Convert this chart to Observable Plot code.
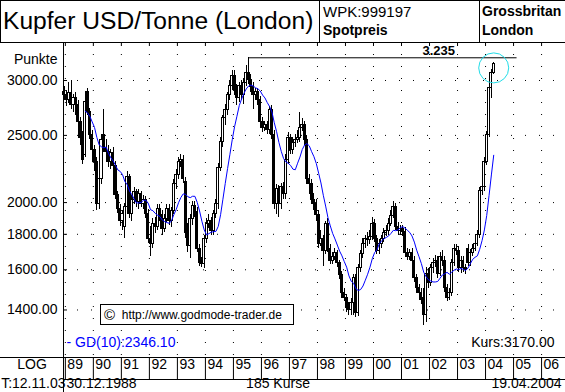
<!DOCTYPE html>
<html><head><meta charset="utf-8">
<script src="https://cdn.jsdelivr.net/npm/d3@7"></script>
<script src="https://cdn.jsdelivr.net/npm/@observablehq/plot@0.6"></script>
<style>
html,body{margin:0;padding:0;background:#fff;}
#wrap{position:relative;width:565px;height:392px;overflow:hidden;background:#fff;font-family:"Liberation Sans",Arial,sans-serif;color:#000;}
.ln{position:absolute;background:#000;}
.t{position:absolute;white-space:nowrap;line-height:1;}
#chart{position:absolute;left:0;top:41px;}
#copy{position:absolute;left:100px;top:304px;width:189px;height:19px;border:1px solid #000;background:#fff;font-size:12px;line-height:19px;padding-left:3px;white-space:nowrap;}
</style></head><body>
<div id="wrap">
  <div class="ln" style="left:0;top:0;width:565px;height:1px"></div>
  <div class="ln" style="left:0;top:0;width:1px;height:42px"></div>
  <div class="ln" style="left:319px;top:0;width:1px;height:42px"></div>
  <div class="ln" style="left:479px;top:0;width:1px;height:42px"></div>
  <div class="ln" style="left:0;top:42px;width:64px;height:1px"></div>
  <div class="ln" style="left:0;top:357px;width:64px;height:1px"></div>
  <div class="ln" style="left:63px;top:357px;width:1px;height:35px"></div>
  <div class="ln" style="left:63px;top:379px;width:502px;height:1px"></div>
  <div class="t" id="title" style="left:3px;top:9px;font-size:24.6px;">Kupfer USD/Tonne (London)</div>
  <div class="t" id="wpk" style="left:323px;top:4px;font-size:15px;"></div>
  <div class="t" id="typ" style="left:323px;top:23px;font-size:14px;font-weight:bold;"></div>
  <div class="t" id="land" style="left:482px;top:4px;font-size:14px;font-weight:bold;"></div>
  <div class="t" id="ort" style="left:482px;top:23px;font-size:14px;font-weight:bold;"></div>
  <div id="chart"></div>
  <div id="copy"><span style="font-size:15px;vertical-align:-1px">&copy;</span>&nbsp; http://www.godmode-trader.de</div>
</div>
<script>
// ---- Data: monthly candles, index 0 = Dec 1988 ----
const firstDate = "30.12.1988";
const lastDate = "19.04.2004";
const infoTexts = ["WPK:999197", "Spotpreis", "Grossbritan", "London"];
const gdText = "GD(10):2346.10";

const opens = [
2885,2855,2810,2875,2765,2830,2770,2615,2480,2345,
2885,2700,2505,2385,2290,1990,2160,2505,2400,2365,
2285,2360,2260,2050,1955,1880,1845,1970,2175,1925,
2020,2070,2005,2055,1990,2020,1925,1775,1745,1865,
1845,1955,1920,1835,1895,1955,1880,1945,2125,2195,
2290,2305,2140,1820,1730,1895,1975,1940,1715,1635,
1630,1775,1865,1880,1820,1925,1990,2245,2445,2650,
2720,2855,2950,3050,2905,2830,2950,2855,2980,3080,
3000,2940,2855,2885,2810,2615,2560,2585,2545,2720,
2505,1990,2090,1990,2105,2055,2305,2480,2385,2440,
2465,2480,2560,2585,2465,2160,2125,2020,1990,1920,
1745,1775,1705,1865,1715,1650,1670,1690,1635,1570,
1480,1455,1410,1400,1435,1555,1385,1610,1685,1745,
1775,1765,1785,1865,1775,1705,1745,1775,1805,1820,
1865,1915,1970,1845,1820,1835,1815,1690,1670,1690,
1650,1555,1505,1480,1455,1375,1580,1530,1610,1635,
1650,1580,1670,1650,1505,1455,1480,1635,1715,1705,
1610,1650,1610,1715,1635,1690,1716,1745,1797,2076,
2104,2290,2503,2922,3080];
const highs = [
2940,2905,2980,3000,2865,2885,2810,2650,2530,2810,
2920,2735,2545,2415,2320,2195,2505,2720,2465,2415,
2385,2400,2290,2075,1990,1945,1995,2215,2195,2050,
2105,2090,2090,2075,2050,2040,1955,1845,1895,1905,
1990,1985,1945,1920,1985,1990,1970,2160,2230,2320,
2345,2335,2175,1865,1920,2005,2005,1970,1740,1665,
1795,1895,1920,1905,1945,2020,2275,2480,2675,2770,
2885,3000,3100,3100,2960,2980,3000,3020,3150,3235,
3060,2980,2920,2920,2845,2650,2620,2620,2755,2765,
2545,2125,2115,2130,2140,2345,2520,2510,2480,2510,
2545,2700,2640,2620,2495,2195,2160,2060,2020,1945,
1820,1795,1880,1895,1740,1695,1715,1705,1650,1590,
1505,1475,1435,1455,1575,1575,1630,1705,1775,1795,
1810,1820,1905,1890,1795,1770,1795,1835,1855,1895,
1945,2010,1995,1870,1855,1855,1840,1715,1710,1715,
1670,1575,1525,1505,1505,1610,1605,1630,1660,1680,
1670,1695,1705,1670,1525,1505,1655,1740,1740,1730,
1670,1670,1630,1740,1710,1740,1770,1820,2105,2131,
2320,2535,2960,3112,3185];
const lows = [
2810,2755,2780,2720,2700,2675,2480,2420,2270,2320,
2675,2465,2345,2215,1945,1955,2125,2365,2305,2245,
2230,2215,2020,1930,1845,1820,1775,1945,1895,1880,
1985,1970,1955,1970,1955,1895,1745,1670,1715,1805,
1820,1880,1795,1810,1870,1855,1840,1920,2090,2160,
2245,2130,1775,1695,1660,1855,1905,1695,1620,1610,
1605,1745,1835,1795,1795,1895,1955,2215,2405,2585,
2675,2810,2905,2855,2765,2790,2810,2770,2940,2960,
2885,2720,2810,2765,2560,2520,2530,2505,2510,2465,
1955,1925,1905,1955,2020,2020,2270,2345,2350,2405,
2430,2445,2530,2420,2125,2055,1990,1945,1880,1715,
1730,1620,1685,1695,1630,1630,1650,1610,1550,1455,
1440,1390,1375,1375,1375,1365,1370,1585,1660,1715,
1730,1740,1765,1750,1685,1685,1715,1750,1785,1795,
1845,1895,1820,1795,1795,1785,1670,1650,1650,1630,
1535,1480,1455,1425,1330,1345,1505,1515,1580,1610,
1555,1565,1620,1485,1440,1445,1465,1620,1680,1585,
1580,1585,1575,1615,1620,1672,1700,1728,1775,2050,
2076,2260,2480,2830,3060];
const closes = [
2855,2810,2875,2765,2830,2770,2615,2480,2305,2790,
2700,2505,2385,2290,1990,2160,2465,2400,2365,2285,
2360,2260,2050,1955,1880,1925,1970,2175,1925,2020,
2070,2005,2055,1990,2020,1925,1775,1745,1865,1845,
1955,1920,1835,1895,1955,1880,1945,2125,2195,2290,
2305,2160,1805,1730,1895,1975,1940,1715,1635,1630,
1775,1865,1880,1820,1925,1990,2245,2445,2650,2720,
2855,2950,3050,2905,2830,2950,2855,2980,3080,3000,
2940,2855,2885,2810,2615,2560,2585,2545,2720,2505,
1990,2090,1990,2105,2055,2305,2480,2385,2440,2465,
2480,2560,2585,2465,2160,2125,2020,1990,1920,1745,
1775,1705,1865,1715,1650,1670,1690,1635,1570,1480,
1455,1410,1400,1435,1555,1385,1610,1685,1745,1775,
1765,1785,1865,1775,1705,1745,1775,1805,1820,1865,
1915,1970,1845,1820,1835,1815,1690,1670,1690,1650,
1555,1505,1480,1445,1375,1580,1530,1610,1635,1650,
1580,1670,1650,1505,1455,1480,1635,1715,1705,1610,
1650,1610,1600,1635,1690,1716,1745,1797,2076,2104,
2290,2503,2922,3080,3170];

const years = d3.range(1989, 2007);            // x-axis year labels 89 … 06
const yTicks = [1400, 1600, 1800, 2000, 2500, 3000];

// ---- derived ----
const candles = closes.map((c, i) => ({i, open: opens[i], high: highs[i], low: lows[i], close: c}));
const up = candles.filter(d => d.close > d.open);
const down = candles.filter(d => d.close <= d.open);
const yearTicks = years.map(y => (y - 1989) * 12 + 0.5);   // month slot start of January
const yearLab = new Map(yearTicks.map((t, k) => [t, String(years[k]).slice(2)]));
const last = candles[candles.length - 1];
const peak = candles.reduce((a, b) => (b.high > a.high ? b : a));
const peakEnd = last.i + 10;
const de = d3.formatLocale({decimal: ",", thousands: ".", grouping: [3], currency: ["", ""]});
const fmtDE = de.format(",d");

document.getElementById("wpk").textContent = infoTexts[0];
document.getElementById("typ").textContent = infoTexts[1];
document.getElementById("land").textContent = infoTexts[2];
document.getElementById("ort").textContent = infoTexts[3];

const chart = Plot.plot({
  width: 565, height: 351,
  marginTop: 1, marginRight: 0, marginBottom: 35, marginLeft: 63,
  x: {type: "linear", domain: [-0.29, 214.75], axis: null},
  y: {type: "log", domain: [1195.6, 3403.5], axis: null},
  style: {fontFamily: '"Liberation Sans", Arial, sans-serif', fontSize: "14px", background: "transparent", color: "black"},
  marks: [
    Plot.ruleY(yTicks, {stroke: "black", strokeDasharray: "1,13"}),
    Plot.ruleX(yearTicks, {stroke: "black", strokeDasharray: "1,11"}),
    Plot.ruleX(yearTicks, {stroke: "black", insetBottom: 311}),
    Plot.ruleY(yTicks, {stroke: "black", insetRight: 498}),
    Plot.ruleX(candles, {x: "i", y1: "low", y2: "high", stroke: "black", shapeRendering: "crispEdges"}),
    Plot.rect(down, {x1: d => d.i - 0.45, x2: d => d.i + 0.45, y1: "open", y2: "close", fill: "black", stroke: "black", shapeRendering: "crispEdges"}),
    Plot.rect(up, {x1: d => d.i - 0.45, x2: d => d.i + 0.45, y1: "open", y2: "close", fill: "white", stroke: "black", shapeRendering: "crispEdges"}),
    Plot.lineY(candles, Plot.windowY({k: 10, anchor: "end", strict: true}, {x: "i", y: "close", stroke: "#0000ff", strokeWidth: 1})),
    Plot.ruleY([peak], {x1: d => d.i, x2: peakEnd, y: d => d.high, stroke: "black"}),
    Plot.text([peak], {x: peakEnd, y: d => d.high, text: d => fmtDE(d.high), textAnchor: "end", dx: -62, dy: -7, fontWeight: "bold", fontSize: 13}),
    Plot.dot([last], {x: "i", y: "close", r: 15, stroke: "#22dde8", strokeWidth: 1, dy: 4}),
    Plot.frame({stroke: "black"}),
    Plot.axisY(yTicks, {anchor: "left", tickSize: 0, tickPadding: 6, tickFormat: d => d.toFixed(2), label: null, fontSize: 14}),
    Plot.axisX(yearTicks, {anchor: "bottom", tickSize: 22, tickFormat: () => "", label: null}),
    Plot.text(yearTicks, {x: d => d, frameAnchor: "bottom", dy: 11, dx: 2, textAnchor: "start", text: d => yearLab.get(d), fontSize: 14}),
    Plot.text(["Punkte"], {frameAnchor: "top-left", dx: -6, dy: 12, textAnchor: "end", text: d => d}),
    Plot.text(["LOG"], {frameAnchor: "bottom-left", dx: -31.5, dy: 11, textAnchor: "middle", text: d => d}),
    Plot.text(["T:12.11.03"], {frameAnchor: "bottom-left", dx: 2, dy: 30, textAnchor: "end", text: d => d}),
    Plot.text([firstDate], {frameAnchor: "bottom-left", dx: 3, dy: 30, textAnchor: "start", text: d => d}),
    Plot.text([`${candles.length} Kurse`], {frameAnchor: "bottom-left", dx: 214.5, dy: 30, textAnchor: "middle", text: d => d}),
    Plot.text([lastDate], {frameAnchor: "bottom-right", dx: -4, dy: 30, textAnchor: "end", text: d => d}),
    Plot.text([`- ${gdText}`], {frameAnchor: "bottom-left", dx: 3, dy: -11, textAnchor: "start", fill: "#0000ff", text: d => d}),
    Plot.text([`Kurs:${last.close.toFixed(2)}`], {frameAnchor: "bottom-right", dx: -11, dy: -11, textAnchor: "end", text: d => d})
  ]
});
document.getElementById("chart").appendChild(chart);
</script>
</body></html>
